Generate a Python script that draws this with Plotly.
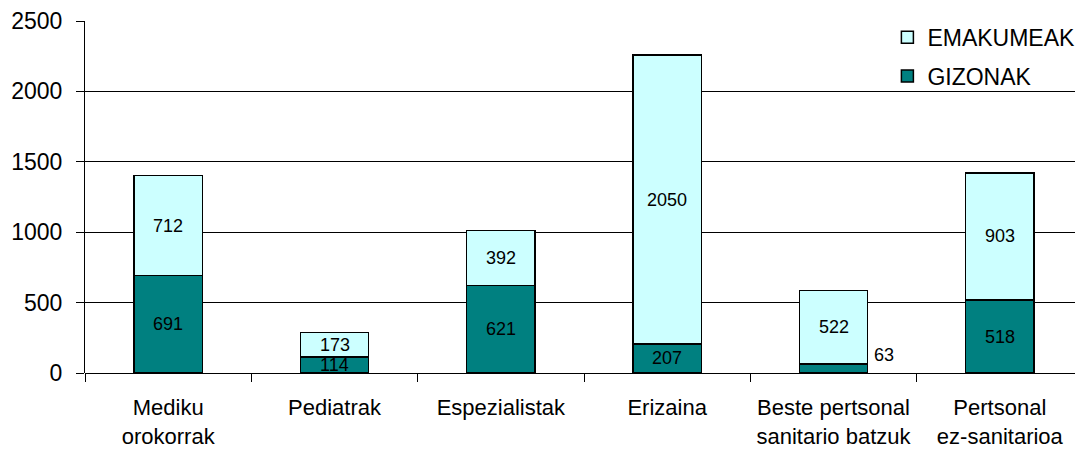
import plotly.graph_objects as go

categories = ["Mediku<br>orokorrak", "Pediatrak", "Espezialistak", "Erizaina",
              "Beste pertsonal<br>sanitario batzuk", "Pertsonal<br>ez-sanitarioa"]
gizonak = [691, 114, 621, 207, 63, 518]
emakumeak = [712, 173, 392, 2050, 522, 903]
y_ticks = [0, 500, 1000, 1500, 2000, 2500]

FONT = "Liberation Sans, Arial, sans-serif"

fig = go.Figure()
fig.add_trace(go.Bar(
    x=categories, y=gizonak, name="GIZONAK", legendgroup="g", legendrank=2,
    marker=dict(color="#008080", line=dict(color="black", width=1.5)),
))
fig.add_trace(go.Bar(
    x=categories, y=emakumeak, name="EMAKUMEAK", legendgroup="e", legendrank=1,
    marker=dict(color="#CCFFFF", line=dict(color="black", width=1.5)),
))

# value labels, centred in each segment; the tiny 63 sits beside its bar
for cat, g, e in zip(categories, gizonak, emakumeak):
    if g < 100:
        fig.add_annotation(x=cat, y=g, text=str(g), showarrow=False,
                           xanchor="left", yanchor="bottom", xshift=38, yshift=-3,
                           font=dict(size=18, color="black", family=FONT))
    else:
        fig.add_annotation(x=cat, y=g / 2, text=str(g), showarrow=False,
                           font=dict(size=18, color="black", family=FONT))
    fig.add_annotation(x=cat, y=g + e / 2, text=str(e), showarrow=False,
                       font=dict(size=18, color="black", family=FONT))

# the page body adds an 8px offset, so the figure is sized to fit inside it
fig.update_layout(
    barmode="stack",
    bargap=0.59,
    width=1075, height=445,
    margin=dict(l=77, r=0, t=13, b=80),
    plot_bgcolor="white", paper_bgcolor="white",
    font=dict(family=FONT, size=22, color="black"),
    showlegend=True,
    legend=dict(x=0.804, y=1.015, xanchor="left", yanchor="top",
                traceorder="grouped", tracegroupgap=6,
                bgcolor="rgba(0,0,0,0)", font=dict(size=23)),
    xaxis=dict(showline=False, ticks="outside", tickson="boundaries",
               ticklen=8, tickcolor="black", showgrid=False, tickangle=0,
               tickfont=dict(size=22), ticklabelstandoff=19, automargin=False),
    yaxis=dict(range=[0, 2500], tickvals=y_ticks, showline=True,
               linecolor="black", linewidth=1, ticks="outside", ticklen=8,
               tickcolor="black", showgrid=True, gridcolor="black",
               gridwidth=1, zeroline=True, zerolinecolor="black",
               zerolinewidth=1, tickfont=dict(size=23), ticklabelstandoff=9,
               automargin=False),
)

fig.write_html("out.html")
